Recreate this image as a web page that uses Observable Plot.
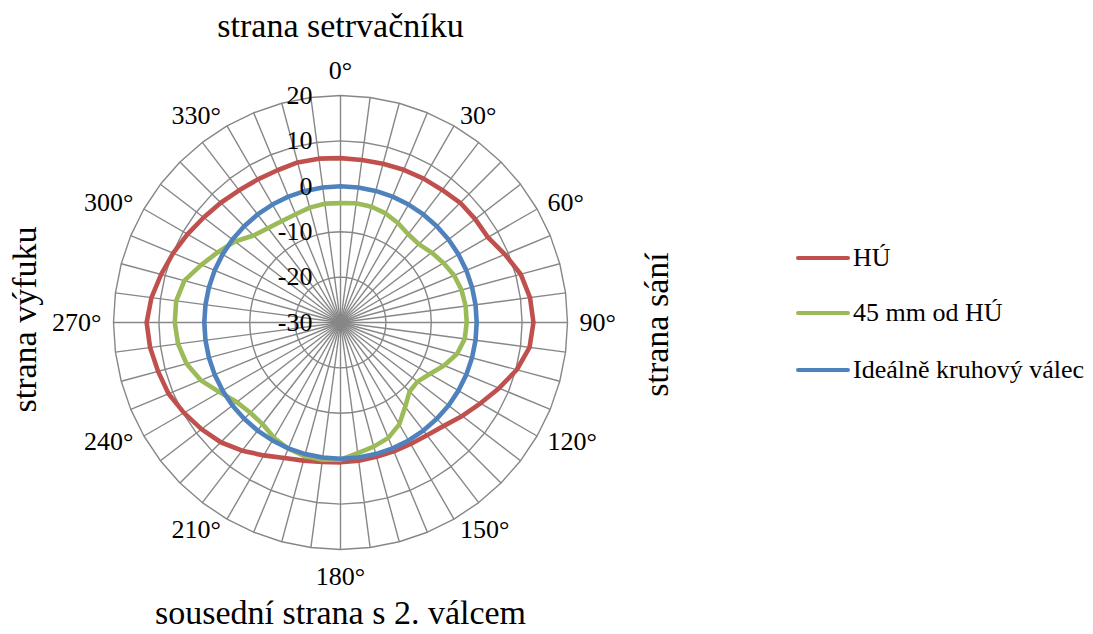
<!DOCTYPE html>
<html>
<head>
<meta charset="utf-8">
<script src="https://cdn.jsdelivr.net/npm/d3@7"></script>
<script src="https://cdn.jsdelivr.net/npm/@observablehq/plot@0.6"></script>
<style>
  body { margin: 0; background: #fff; }
  #wrap { position: relative; width: 1093px; height: 634px; font-family: "Liberation Serif", Tinos, "Times New Roman", Times, "DejaVu Serif", "Noto Serif", serif; }
  #wrap svg { position: absolute; left: 0; top: 0; }
  #legend { position: absolute; left: 796px; top: 0; }
  .row { position: absolute; left: 0; display: flex; align-items: center; height: 30px; white-space: nowrap; font-size: 26px; color: #000; }
  .sw { width: 54px; height: 4.5px; border-radius: 2.25px; margin-right: 3px; }
</style>
</head>
<body>
<div id="wrap"><div id="legend"></div></div>
<script>
// ---- data ----
const angles = [0, 7.5, 15, 22.5, 30, 37.5, 45, 52.5, 60, 67.5, 75, 82.5,
  90, 97.5, 105, 112.5, 120, 127.5, 135, 142.5, 150, 157.5, 165, 172.5,
  180, 187.5, 195, 202.5, 210, 217.5, 225, 232.5, 240, 247.5, 255, 262.5,
  270, 277.5, 285, 292.5, 300, 307.5, 315, 322.5, 330, 337.5, 345, 352.5];
const labeledAngles = [0, 30, 60, 90, 120, 150, 180, 210, 240, 270, 300, 330];
const radialTicks = [-30, -20, -10, 0, 10, 20];
const gridRings = [-20, -10, 0, 10, 20];
const seriesNames = ["HÚ", "45 mm od HÚ", "Ideálně kruhový válec"];
const seriesColors = ["#C0504D", "#9BBB59", "#4F81BD"];

const hu = [6.2, 6.1, 6.2, 6.4, 6.6, 6.8, 7.3, 7.4, 7.5, 9.2, 11.1, 12.1,
  12.5, 12.0, 10.2, 7.8, 5.6, 3.8, 2.2, 1.3, 0.9, 0.7, 0.6, 0.7,
  0.8, 1.0, 1.5, 2.3, 3.8, 5.6, 7.3, 8.6, 9.8, 11.0, 11.6, 12.3,
  12.7, 12.0, 10.9, 9.9, 8.9, 8.0, 7.3, 6.7, 6.4, 6.3, 6.5, 6.4];
const mm45 = [-3.7, -3.5, -3.6, -4.0, -4.7, -5.5, -5.6, -4.7, -3.8, -2.9, -2.4, -2.2,
  -2.2, -2.4, -3.4, -5.3, -7.3, -8.6, -8.5, -6.6, -4.1, -2.5, -1.7, -1.0,
  0.2, 0.5, 0.5, 0.1, -0.7, -1.8, -1.9, -1.2, 0.7, 3.3, 5.1, 6.1,
  6.5, 6.5, 5.6, 3.2, 1.1, -0.7, -2.9, -3.8, -4.2, -4.2, -3.8, -3.6];
const idealni = [0, 0, 0, 0, 0, 0, 0, 0, 0, 0, 0, 0,
  0, 0, 0, 0, 0, 0, 0, 0, 0, 0, 0, 0,
  0, 0, 0, 0, 0, 0, 0, 0, 0, 0, 0, 0,
  0, 0, 0, 0, 0, 0, 0, 0, 0, 0, 0, 0];

// ---- layout ----
const W = 1093, H = 634;
const CX = 340, CY = 322, RPX = 227;
const FONT = '"Liberation Serif", Tinos, "Times New Roman", Times, "DejaVu Serif", "Noto Serif", serif';
const rMin = radialTicks[0], rMax = radialTicks[radialTicks.length - 1];
const span = rMax - rMin;
const pxPerUnit = RPX / span;

const polar = (a, v) => {
  const r = v - rMin, t = a * Math.PI / 180;
  return {x: r * Math.sin(t), y: r * Math.cos(t)};
};

const seriesRows = [hu, mm45, idealni].flatMap((vals, k) =>
  vals.map((v, i) => ({series: seriesNames[k], angle: angles[i], value: v, ...polar(angles[i], v)})));

const ringRows = gridRings.flatMap(g => angles.map(a => ({ring: g, ...polar(a, g)})));
const spokeRows = angles.map(a => ({a, ...polar(a, rMax)}));

// angle labels
const gapPx = (a) => Math.abs(Math.sin(a * Math.PI / 180)) < 0.01 ? 17 : 12;
const labelRows = labeledAngles.map(a => {
  const t = a * Math.PI / 180;
  const r = span + gapPx(a) / pxPerUnit;
  return {a, label: `${a}°`, x: r * Math.sin(t), y: r * Math.cos(t), s: Math.sin(t), c: Math.cos(t)};
});
const rightLabels = labelRows.filter(d => d.s > 0.01);
const leftLabels = labelRows.filter(d => d.s < -0.01);
const topLabels = labelRows.filter(d => Math.abs(d.s) <= 0.01 && d.c > 0);
const bottomLabels = labelRows.filter(d => Math.abs(d.s) <= 0.01 && d.c < 0);

const gridColor = "#878787";

const chart = Plot.plot({
  width: W,
  height: H,
  marginLeft: CX - RPX,
  marginRight: W - (CX + RPX),
  marginTop: CY - RPX,
  marginBottom: H - (CY + RPX),
  x: {domain: [-span, span], axis: null},
  y: {domain: [-span, span], axis: null},
  color: {domain: seriesNames, range: seriesColors},
  style: {fontFamily: FONT, fontSize: "26px", color: "#000", background: "transparent", overflow: "visible"},
  marks: [
    Plot.link(spokeRows, {x1: 0, y1: 0, x2: "x", y2: "y", stroke: gridColor, strokeWidth: 1.4}),
    Plot.line(ringRows, {x: "x", y: "y", z: "ring", curve: "linear-closed", stroke: gridColor, strokeWidth: 1.4}),
    Plot.line(seriesRows, {x: "x", y: "y", z: "series", stroke: "series", curve: "linear-closed", strokeWidth: 4.6, strokeLinejoin: "round"}),
    Plot.text(radialTicks, {x: 0, y: d => d - rMin, text: d => String(d), textAnchor: "end", lineAnchor: "middle", dx: -28, fill: "#000"}),
    Plot.text(rightLabels, {x: "x", y: "y", text: "label", textAnchor: "start", lineAnchor: "middle", fill: "#000"}),
    Plot.text(leftLabels, {x: "x", y: "y", text: "label", textAnchor: "end", lineAnchor: "middle", fill: "#000"}),
    Plot.text(topLabels, {x: "x", y: "y", text: "label", textAnchor: "middle", lineAnchor: "bottom", fill: "#000"}),
    Plot.text(bottomLabels, {x: "x", y: "y", text: "label", textAnchor: "middle", lineAnchor: "top", fill: "#000"}),
    Plot.text(["strana setrvačníku"], {frameAnchor: "top", text: d => d, textAnchor: "middle", lineAnchor: "middle", dy: -69, fontSize: 34, fill: "#000"}),
    Plot.text(["sousední strana s 2. válcem"], {frameAnchor: "bottom", text: d => d, textAnchor: "middle", lineAnchor: "middle", dy: 64, fontSize: 34, fill: "#000"}),
    Plot.text(["strana výfuku"], {frameAnchor: "left", text: d => d, textAnchor: "middle", lineAnchor: "middle", rotate: -90, dx: -88, dy: -3, fontSize: 34, fill: "#000"}),
    Plot.text(["strana sání"], {frameAnchor: "right", text: d => d, textAnchor: "middle", lineAnchor: "middle", rotate: -90, dx: 90, dy: 2, fontSize: 34, fill: "#000"})
  ]
});
const wrap = document.getElementById("wrap");
wrap.insertBefore(chart, wrap.firstChild);

// legend
const legend = document.getElementById("legend");
const rowCenters = [258, 313, 370];
seriesNames.forEach((name, i) => {
  const row = document.createElement("div");
  row.className = "row";
  row.style.top = (rowCenters[i] - 15) + "px";
  const sw = document.createElement("span");
  sw.className = "sw";
  sw.style.background = seriesColors[i];
  const tx = document.createElement("span");
  tx.textContent = name;
  row.appendChild(sw);
  row.appendChild(tx);
  legend.appendChild(row);
});
</script>
</body>
</html>
